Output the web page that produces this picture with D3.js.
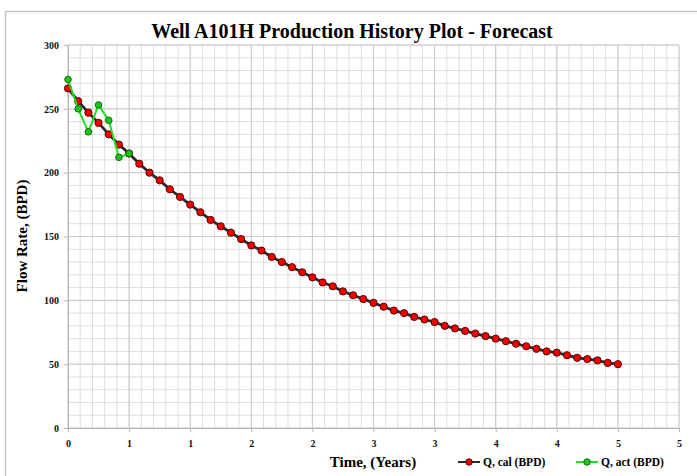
<!DOCTYPE html>
<html>
<head>
<meta charset="utf-8">
<script src="https://cdn.jsdelivr.net/npm/d3@7"></script>
<style>
  body { margin: 0; background: #fff; }
  text { font-family: "Liberation Serif", "Times New Roman", serif; font-weight: bold; }
</style>
</head>
<body>
<script>
// months since start
var months = [0, 1, 2, 3, 4, 5, 6, 7, 8, 9, 10, 11, 12, 13, 14, 15, 16, 17, 18, 19,
              20, 21, 22, 23, 24, 25, 26, 27, 28, 29, 30, 31, 32, 33, 34, 35, 36, 37, 38, 39,
              40, 41, 42, 43, 44, 45, 46, 47, 48, 49, 50, 51, 52, 53, 54];
// Q, cal (BPD)
var qCal = [266, 256, 247, 239, 230, 222, 215, 207, 200, 194, 187, 181, 175, 169, 163, 158, 153, 148, 143, 139,
            134, 130, 126, 122, 118, 114, 111, 107, 104, 101, 98, 95, 92, 90, 87, 85, 83, 80, 78, 76,
            74, 72, 70, 68, 66, 64, 62, 60, 59, 57, 55, 54, 53, 51, 50];
// Q, act (BPD)
var actMonths = [0, 1, 2, 3, 4, 5, 6];
var qAct = [273, 250, 232, 253, 241, 212, 215];

var xTickValues = [0, 6, 12, 18, 24, 30, 36, 42, 48, 54, 60];
var xTickLabels = ["0", "1", "1", "2", "2", "3", "3", "4", "4", "5", "5"];
var yTickValues = [0, 50, 100, 150, 200, 250, 300];

var W = 697, H = 476;
var margin = {top: 45, right: 18, bottom: 48, left: 68};
var width = W - margin.left - margin.right,
    height = H - margin.top - margin.bottom;

var x = d3.scaleLinear().domain([0, 60]).range([0, width]);
var y = d3.scaleLinear().domain([0, 300]).range([height, 0]);

var svg = d3.select("body").append("svg")
    .attr("width", W)
    .attr("height", H);

// chart area frame
svg.append("rect")
    .attr("x", 5.5).attr("y", 11.5)
    .attr("width", W + 10).attr("height", H + 10)
    .attr("fill", "#fff")
    .attr("stroke", "#c4c4c4")
    .attr("stroke-width", 1.5);

svg.append("text")
    .attr("x", 352).attr("y", 38)
    .attr("text-anchor", "middle")
    .style("font-size", "20px")
    .text("Well A101H Production History Plot - Forecast");

var g = svg.append("g")
    .attr("transform", "translate(" + margin.left + "," + margin.top + ")");

// minor grid
g.append("g").selectAll("line")
    .data(d3.range(0, 60.001, 1.2))
  .enter().append("line")
    .attr("x1", function(d) { return x(d); })
    .attr("x2", function(d) { return x(d); })
    .attr("y1", 0).attr("y2", height)
    .attr("stroke", "#dedede");
g.append("g").selectAll("line")
    .data(d3.range(0, 300.001, 10))
  .enter().append("line")
    .attr("y1", function(d) { return y(d); })
    .attr("y2", function(d) { return y(d); })
    .attr("x1", 0).attr("x2", width)
    .attr("stroke", "#dedede");

// major grid
g.append("g").selectAll("line")
    .data(xTickValues)
  .enter().append("line")
    .attr("x1", function(d) { return x(d); })
    .attr("x2", function(d) { return x(d); })
    .attr("y1", 0).attr("y2", height)
    .attr("stroke", "#cacaca");
g.append("g").selectAll("line")
    .data(yTickValues)
  .enter().append("line")
    .attr("y1", function(d) { return y(d); })
    .attr("y2", function(d) { return y(d); })
    .attr("x1", 0).attr("x2", width)
    .attr("stroke", "#cacaca");

// axes
var xAxis = g.append("g")
    .attr("transform", "translate(0," + height + ")")
    .call(d3.axisBottom(x).tickValues(xTickValues)
      .tickFormat(function(d, i) { return xTickLabels[i]; })
      .tickSize(4).tickPadding(8));
var yAxis = g.append("g")
    .call(d3.axisLeft(y).tickValues(yTickValues).tickSize(4).tickPadding(5));
[xAxis, yAxis].forEach(function(a) {
  a.select(".domain").attr("stroke", "#b8b8b8");
  a.selectAll(".tick line").attr("stroke", "#b8b8b8");
  a.selectAll(".tick text")
    .style("font-family", "Liberation Serif, serif")
    .style("font-weight", "bold")
    .style("font-size", "10px")
    .attr("fill", "#111");
});

var line = d3.line()
    .x(function(d) { return x(d[0]); })
    .y(function(d) { return y(d[1]); });

var calPts = d3.zip(months, qCal);
var actPts = d3.zip(actMonths, qAct);

g.append("path")
    .attr("d", line(calPts))
    .attr("fill", "none")
    .attr("stroke", "#2a2a2a")
    .attr("stroke-width", 2.8);
g.append("g").selectAll("circle")
    .data(calPts)
  .enter().append("circle")
    .attr("cx", function(d) { return x(d[0]); })
    .attr("cy", function(d) { return y(d[1]); })
    .attr("r", 3.6)
    .attr("fill", "#f00000")
    .attr("stroke", "#5a0000")
    .attr("stroke-width", 1);

g.append("path")
    .attr("d", line(actPts))
    .attr("fill", "none")
    .attr("stroke", "#22dd22")
    .attr("stroke-width", 2);
g.append("g").selectAll("circle")
    .data(actPts)
  .enter().append("circle")
    .attr("cx", function(d) { return x(d[0]); })
    .attr("cy", function(d) { return y(d[1]); })
    .attr("r", 3.3)
    .attr("fill", "#1fc41f")
    .attr("stroke", "#0b6a0b")
    .attr("stroke-width", 1);

// axis titles
svg.append("text")
    .attr("x", 373).attr("y", 467)
    .attr("text-anchor", "middle")
    .style("font-size", "15px")
    .text("Time, (Years)");
svg.append("text")
    .attr("transform", "translate(27,236) rotate(-90)")
    .attr("text-anchor", "middle")
    .style("font-size", "15px")
    .text("Flow Rate, (BPD)");

// legend
var legend = [
  {label: "Q, cal (BPD)", line: "#2a2a2a", fill: "#f00000", stroke: "#5a0000", x: 458},
  {label: "Q, act (BPD)", line: "#22dd22", fill: "#1fc41f", stroke: "#0b6a0b", x: 576}
];
var lg = svg.append("g").selectAll("g")
    .data(legend)
  .enter().append("g")
    .attr("transform", function(d) { return "translate(" + d.x + ",462)"; });
lg.append("line")
    .attr("x1", 0).attr("x2", 22)
    .attr("stroke", function(d) { return d.line; })
    .attr("stroke-width", 2);
lg.append("circle")
    .attr("cx", 11).attr("r", 3.2)
    .attr("fill", function(d) { return d.fill; })
    .attr("stroke", function(d) { return d.stroke; });
lg.append("text")
    .attr("x", 25).attr("dy", "0.35em")
    .style("font-size", "11.5px")
    .text(function(d) { return d.label; });
</script>
</body>
</html>
